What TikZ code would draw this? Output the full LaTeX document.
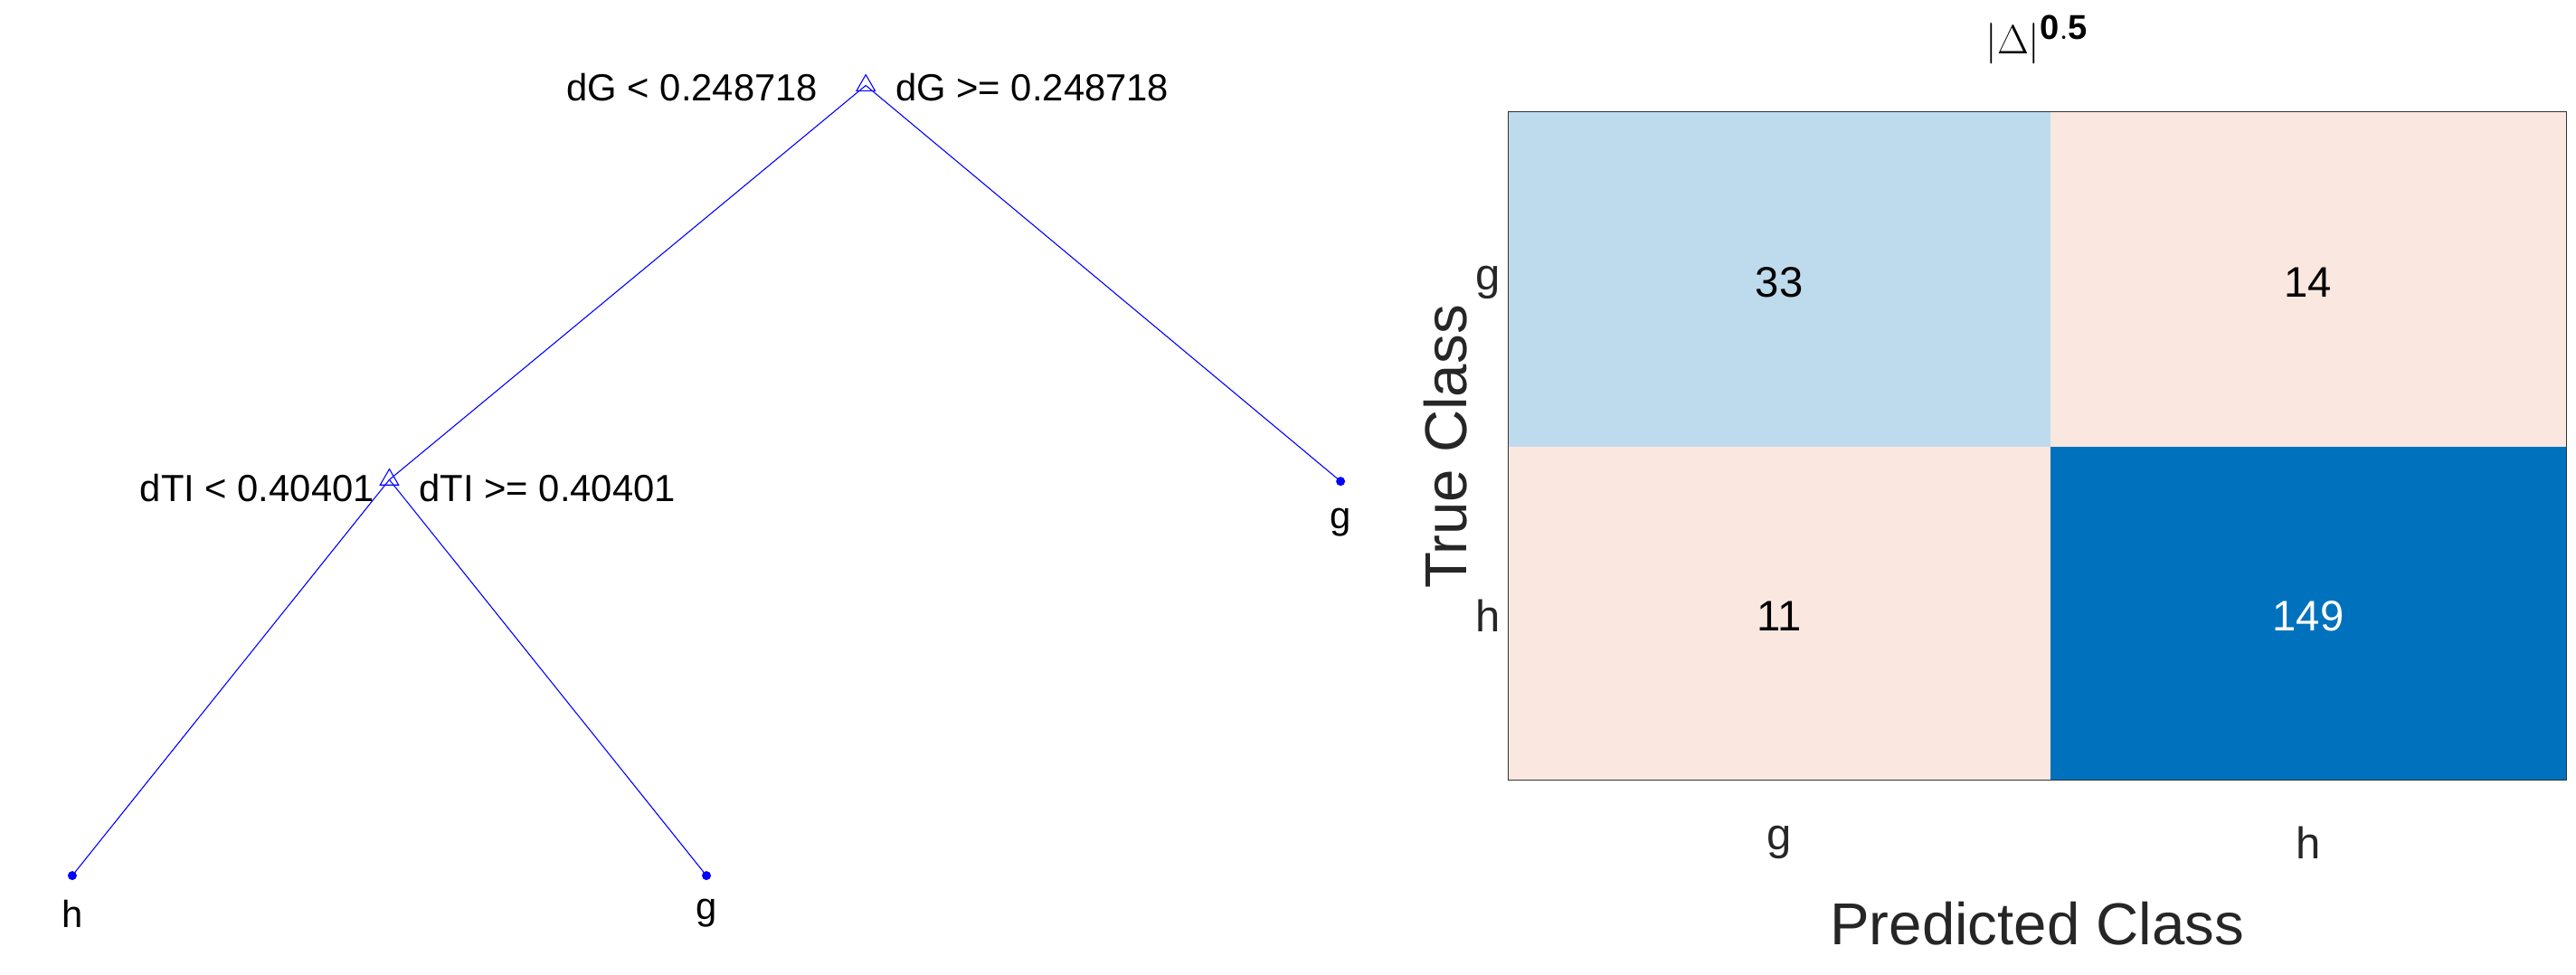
\documentclass[tikz,border=0pt]{standalone}
\usepackage{fontspec}
\setmainfont{Liberation Sans}
\usetikzlibrary{shapes.geometric}
\begin{document}
\begin{tikzpicture}[x=1pt,y=-1pt,
  edge/.style={blue,line width=0.6pt},
  split/.style={draw=blue,regular polygon,regular polygon sides=3,inner sep=0pt,minimum size=13pt,line width=0.6pt},
  leaf/.style={circle,fill=blue,inner sep=0pt,minimum size=5.5pt},
  lbl/.style={font=\fontsize{23}{23}\selectfont,inner sep=0pt},
  num/.style={font=\fontsize{26}{26}\selectfont},
  ax/.style={font=\fontsize{27}{27}\selectfont,text=black!85}]
\useasboundingbox (0,0) rectangle (1568,593);
% tree
\node[split] (r) at (527,52) {};
\node[split] (l) at (237,292) {};
\node[leaf] (rr) at (816,293) {};
\node[leaf] (ll) at (44,533) {};
\node[leaf] (lr) at (430,533) {};
\draw[edge] (r.center) -- (l.center);
\draw[edge] (r.center) -- (rr.center);
\draw[edge] (l.center) -- (ll.center);
\draw[edge] (l.center) -- (lr.center);
\node[lbl,anchor=east] (rl1) at (498,53) {dG < 0.248718};
\node[lbl,anchor=west] (rl2) at (545,53) {dG >= 0.248718};
\node[lbl,anchor=east] (ll1) at (228,297) {dTI < 0.40401};
\node[lbl,anchor=west] (ll2) at (255,297) {dTI >= 0.40401};
\node[lbl] (t1) at (816,318) {g};
\node[lbl] (t2) at (44,556) {h};
\node[lbl] (t3) at (430,556) {g};
% matrix
\definecolor{lb}{RGB}{190,218,237}
\definecolor{sa}{RGB}{249,231,224}
\definecolor{db}{RGB}{0,114,189}
\fill[lb] (918,68) rectangle (1248,272);
\fill[sa] (1248,68) rectangle (1562,272);
\fill[sa] (918,272) rectangle (1248,475);
\fill[db] (1248,272) rectangle (1562,475);
\draw[black!80,line width=0.7pt] (918,68) rectangle (1562,475);
\node[num] (c11) at (1083,172) {33};
\node[num] (c12) at (1405,172) {14};
\node[num] (c21) at (1083,375) {11};
\node[num,text=white] (c22) at (1405,375) {149};
\node[ax] (rg) at (906,172) {g};
\node[ax] (rh) at (906,375) {h};
\node[ax] (cg) at (1083,513) {g};
\node[ax] (ch) at (1405,513) {h};
\node[font=\fontsize{36}{36}\selectfont,text=black!85,rotate=90] (yl) at (880,272) {True Class};
\node[font=\fontsize{36}{36}\selectfont,text=black!85] (xl) at (1240,562) {Predicted Class};
\node[font=\bfseries\fontsize{30}{30}\selectfont] (ti) at (1240,24) {$|\Delta|^{\mathbf{0.5}}$};
\end{tikzpicture}
\end{document}
